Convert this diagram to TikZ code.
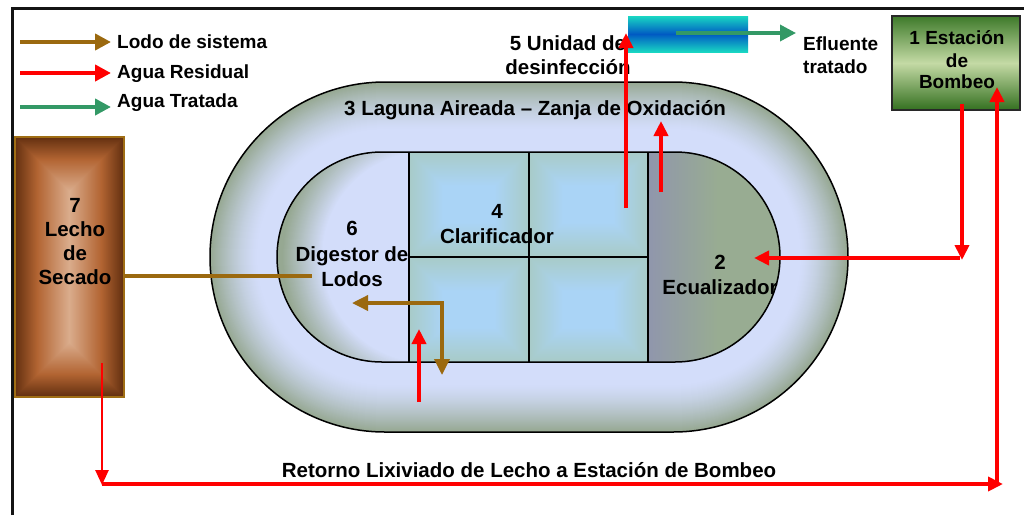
\documentclass[tikz,border=0pt]{standalone}
\usepackage{fontspec}
\setmainfont{Liberation Sans}
\usetikzlibrary{arrows.meta}
\definecolor{ovalEdge}{RGB}{150,168,146}
\definecolor{ovalIn}{RGB}{211,221,250}
\definecolor{clarEdge}{RGB}{168,203,200}
\definecolor{clarIn}{RGB}{170,212,246}
\definecolor{ecuBase}{RGB}{152,172,146}
\definecolor{ecuLeft}{RGB}{144,150,172}
\definecolor{lechoEdge}{RGB}{100,48,16}
\definecolor{lechoMid}{RGB}{178,100,50}
\definecolor{lechoIn}{RGB}{218,172,140}
\definecolor{lechoBorder}{RGB}{160,110,20}
\definecolor{stTop}{RGB}{62,122,42}
\definecolor{stMid}{RGB}{196,218,165}
\definecolor{stBot}{RGB}{52,112,32}
\definecolor{disTeal}{RGB}{25,215,195}
\definecolor{disBlue}{RGB}{0,90,195}
\definecolor{sludge}{RGB}{155,105,15}
\definecolor{treated}{RGB}{51,153,102}
\definecolor{wastew}{RGB}{255,0,0}
\definecolor{frameblk}{RGB}{20,20,20}
\tikzset{
  lbl/.style={font=\bfseries\fontsize{20.5}{24}\selectfont, inner sep=0pt, anchor=base},
  smlbl/.style={font=\bfseries\fontsize{19}{22}\selectfont, inner sep=0pt, anchor=base},
  leglbl/.style={font=\bfseries\fontsize{19}{22}\selectfont, inner sep=0pt, anchor=base west},
  redflow/.style={draw=wastew, line width=4pt, -{Triangle[length=15pt,width=14pt]}},
  redthin/.style={draw=wastew, line width=2.6pt, -{Triangle[length=15pt,width=13pt]}},
  sludgeflow/.style={draw=sludge, line width=4pt, -{Triangle[length=16pt,width=16pt]}},
  sludgeline/.style={draw=sludge, line width=3.5pt},
  treatedflow/.style={draw=treated, line width=4pt, -{Triangle[length=16pt,width=16pt]}},
  outline/.style={draw=black, line width=1.5pt}
}
\begin{document}
\begin{tikzpicture}[x=1pt,y=-1pt]
\useasboundingbox (0,0) rectangle (1024,515);
\fill[white] (0,0) rectangle (1024,515);
% frame
\draw[frameblk, line width=3pt] (12,515) -- (12,8) -- (1024,8);

% ---------- outer lagoon (3)
\foreach \i in {0,...,48}{
  \pgfmathsetmacro\p{100*(1-\i/48)^1.4}
  \pgfmathsetmacro\r{175-\i}
  \fill[ovalEdge!\p!ovalIn, rounded corners=\r pt] (210+\i,82+\i) rectangle (848-\i,432-\i);
}
\draw[outline, rounded corners=175pt] (210,82) rectangle (848,432);

% ---------- inner stadium
\fill[ovalIn, rounded corners=105pt] (277,152) rectangle (780,362);
% digestor (6)
\begin{scope}
  \clip (277,152) rectangle (409,362);
  \clip[rounded corners=105pt] (277,152) rectangle (780,362);
  \foreach \i in {0,...,55}{
    \pgfmathsetmacro\r{160-\i}
    \pgfmathsetmacro\p{max(0,min(100,(\r-106)/40*100))}
    \fill[ovalEdge!\p!ovalIn] (428,257) circle[radius=\r];
  }
\end{scope}
% equalizer (2)
\begin{scope}
  \clip (648,152) rectangle (780,362);
  \clip[rounded corners=105pt] (277,152) rectangle (780,362);
  \fill[ecuBase] (648,152) rectangle (780,362);
  \shade[left color=ecuLeft, right color=ecuBase] (648,152) rectangle (718,362);
\end{scope}
% clarifier cells (4)
\foreach \cx/\cy/\cw in {409/152/120, 529/152/119, 409/257/120, 529/257/119}{
  \foreach \i in {0,...,44}{
    \pgfmathsetmacro\p{max(0,100-\i*100/34)}
    \fill[clarEdge!\p!clarIn] (\cx+\i,\cy+\i) rectangle (\cx+\cw-\i,\cy+105-\i);
  }
}
\draw[outline] (409,152) -- (409,362);
\draw[outline] (529,152) -- (529,362);
\draw[outline] (648,152) -- (648,362);
\draw[outline] (409,257) -- (648,257);
\draw[outline, rounded corners=105pt] (277,152) rectangle (780,362);

% ---------- drying bed (7)
\foreach \i in {0,...,54}{
  \ifnum\i<22
    \pgfmathsetmacro\p{100*\i/22}
    \fill[lechoMid!\p!lechoEdge] (15+\i,137+\i) rectangle (124-\i,397-\i);
  \else
    \pgfmathsetmacro\p{100*(\i-22)/32}
    \fill[lechoIn!\p!lechoMid] (15+\i,137+\i) rectangle (124-\i,397-\i);
  \fi
}
\draw[lechoBorder, line width=1.5pt] (15,137) rectangle (124,397);

% ---------- pumping station (1)
\shade[top color=stTop, bottom color=stBot, middle color=stMid] (892,16) rectangle (1020,110);
\draw[line width=1.6pt, draw={rgb,255:red,40;green,40;blue,40}] (892,16) rectangle (1020,110);

% ---------- labels
\node[leglbl] (legSludge) at (117,48) {Lodo de sistema};
\node[leglbl] (legWaste) at (117,78) {Agua Residual};
\node[leglbl] (legTreated) at (117,107) {Agua Tratada};

\node[lbl] (disA) at (568,50) {5 Unidad de};
\node[lbl] (disB) at (568,74) {desinfección};

\node[smlbl, anchor=base west] (effA) at (803,50) {Efluente};
\node[smlbl, anchor=base west] (effB) at (803,73) {tratado};

\node[smlbl] (stA) at (957,44) {1 Estación};
\node[smlbl] (stB) at (957,67) {de};
\node[smlbl] (stC) at (957,88) {Bombeo};

\node[lbl] (lagoon) at (535,115) {3 Laguna Aireada – Zanja de Oxidación};

\node[lbl] (lecA) at (75,212) {7};
\node[lbl] (lecB) at (75,236) {Lecho};
\node[lbl] (lecC) at (75,260) {de};
\node[lbl] (lecD) at (75,284) {Secado};

\node[lbl] (digA) at (352,235) {6};
\node[lbl] (digB) at (352,261) {Digestor de};
\node[lbl] (digC) at (352,286) {Lodos};

\node[lbl] (clarA) at (497,218) {4};
\node[lbl] (clarB) at (497,243) {Clarificador};

\node[lbl] (ecuA) at (720,269) {2};
\node[lbl] (ecuB) at (720,294) {Ecualizador};

\node[lbl] (ret) at (529,477) {Retorno Lixiviado de Lecho a Estación de Bombeo};

% ---------- disinfection unit (5)
\shade[top color=disTeal, bottom color=disTeal, middle color=disBlue] (628,16) rectangle (748,52);

% ---------- connector end points
\coordinate (leg1s) at (20,42);  \coordinate (leg1e) at (111,42);
\coordinate (leg2s) at (20,73);  \coordinate (leg2e) at (111,73);
\coordinate (leg3s) at (20,107); \coordinate (leg3e) at (111,107);
\coordinate (clarOut) at (626,208); \coordinate (disIn) at (626,33);
\coordinate (ecuOut) at (661,192);  \coordinate (ecuTop) at (661,121);
\coordinate (disOut) at (676,33);   \coordinate (effTip) at (796,33);
\coordinate (stOut) at (962,104);   \coordinate (stDown) at (962,260);
\coordinate (stCorner) at (960,258); \coordinate (ecuIn) at (754,258);
\coordinate (retUp) at (997,486);   \coordinate (stIn) at (997,87);
\coordinate (lecOut) at (102,363);  \coordinate (lecDown) at (102,485);
\coordinate (retStart) at (102,484); \coordinate (retEnd) at (1003,484);
\coordinate (clarInA) at (419,402); \coordinate (clarInB) at (419,329);
\coordinate (lecIn) at (124,276);   \coordinate (digSl) at (312,276);
\coordinate (digTip) at (352,303);  \coordinate (clarSl) at (442,303);
\coordinate (clarDown) at (442,375);

% ---------- connectors
\draw[sludgeflow] (leg1s) -- (leg1e);
\draw[redflow, -{Triangle[length=16pt,width=16pt]}] (leg2s) -- (leg2e);
\draw[treatedflow] (leg3s) -- (leg3e);

\draw[sludgeline] (lecIn) -- (digSl);
\draw[sludgeline, {Triangle[length=16pt,width=15pt]}-{Triangle[length=16pt,width=15pt]}] (digTip) -- (clarSl) -- (clarDown);

\draw[redflow] (clarInA) -- (clarInB);
\draw[redflow] (clarOut) -- (disIn);
\draw[redflow] (ecuOut) -- (ecuTop);
\draw[treatedflow, line width=3.5pt] (disOut) -- (effTip);
\draw[redflow] (stOut) -- (stDown);
\draw[redflow] (stCorner) -- (ecuIn);
\draw[redflow] (retUp) -- (stIn);
\draw[redthin] (lecOut) -- (lecDown);
\draw[redflow] (retStart) -- (retEnd);
\end{tikzpicture}
\end{document}
